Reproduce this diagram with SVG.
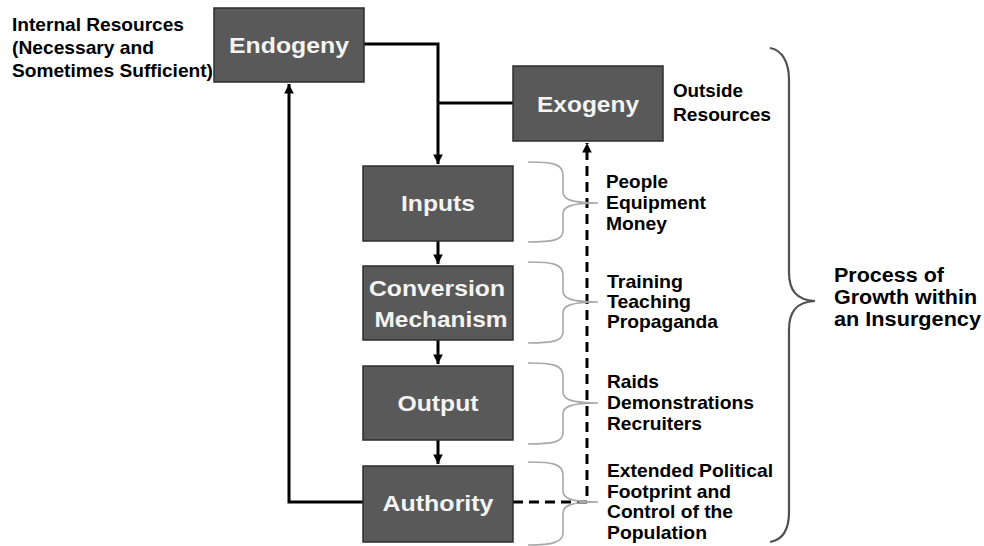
<svg xmlns="http://www.w3.org/2000/svg" width="984" height="546" viewBox="0 0 984 546">
  <defs>
    <style>
      .box { fill: #595959; stroke: #2e2e2e; stroke-width: 1.5; }
      .boxlabel { font-family: "Liberation Sans", Arial, sans-serif; font-weight: bold; font-size: 22px; fill: #f4f4f4; text-anchor: middle; }
      .label { font-family: "Liberation Sans", Arial, sans-serif; font-weight: bold; font-size: 18.5px; fill: #000; }
      .biglabel { font-family: "Liberation Sans", Arial, sans-serif; font-weight: bold; font-size: 19.5px; fill: #000; }
      .wire { fill: none; stroke: #000; stroke-width: 3; }
      .dash { fill: none; stroke: #000; stroke-width: 3; stroke-dasharray: 10 6; }
      .brace { fill: none; stroke: #a8a8a8; stroke-width: 1.6; }
      .bigbrace { fill: none; stroke: #505050; stroke-width: 2.2; }
    </style>
    <marker id="arrow" viewBox="0 0 10 10" refX="10" refY="5" markerWidth="3.2" markerHeight="3.6" orient="auto" markerUnits="strokeWidth">
      <path d="M0,0 L10,5 L0,10 Z" fill="#000"/>
    </marker>
  </defs>

  <!-- connectors -->
  <g id="connectors">
    <path class="wire" d="M364,44 H438 V164" marker-end="url(#arrow)"/>
    <path class="wire" d="M438,103 H513"/>
    <path class="wire" d="M438,241 V264" marker-end="url(#arrow)"/>
    <path class="wire" d="M438,340 V364" marker-end="url(#arrow)"/>
    <path class="wire" d="M438,440 V464" marker-end="url(#arrow)"/>
    <path class="wire" d="M363,502 H289 V84" marker-end="url(#arrow)"/>
    <path class="dash" d="M513,502 H587 V143" marker-end="url(#arrow)"/>
  </g>

  <!-- small braces grouping each stage's examples -->
  <g id="stage-braces">
    <path class="brace" d="M528,162 C553,162 563,164 563,175 L563,192 C563,199 570,203 598,203 C570,203 563,207 563,214 L563,231 C563,240 553,242 528,242"/>
    <path class="brace" d="M528,262 C553,262 563,264 563,275 L563,291 C563,298 570,302 598,302 C570,302 563,306 563,313 L563,332 C563,341 553,343 528,343"/>
    <path class="brace" d="M528,363 C553,363 563,365 563,376 L563,392 C563,399 570,403 598,403 C570,403 563,407 563,414 L563,433 C563,442 553,444 528,444"/>
    <path class="brace" d="M528,462 C553,462 563,464 563,475 L563,491 C563,498 570,502 598,502 C570,502 563,506 563,513 L563,533 C563,542 553,545 528,545"/>
  </g>

  <!-- large brace spanning the whole process -->
  <g id="process-brace">
    <path class="bigbrace" d="M770,48 C782,50 789,62 789,80 L789,272 C789,290 796,300 815,301 C796,302 789,312 789,330 L789,512 C789,530 782,540 770,542"/>
  </g>

  <!-- nodes -->
  <g id="endogeny">
    <rect class="box" x="214" y="8" width="150" height="74"/>
    <text class="boxlabel" x="289" y="53" textLength="120" lengthAdjust="spacingAndGlyphs">Endogeny</text>
  </g>
  <g id="exogeny">
    <rect class="box" x="513" y="66" width="150" height="75"/>
    <text class="boxlabel" x="588" y="112" textLength="102" lengthAdjust="spacingAndGlyphs">Exogeny</text>
  </g>
  <g id="inputs">
    <rect class="box" x="363" y="166" width="150" height="75"/>
    <text class="boxlabel" x="438" y="211" textLength="74" lengthAdjust="spacingAndGlyphs">Inputs</text>
  </g>
  <g id="conversion">
    <rect class="box" x="363" y="266" width="150" height="74"/>
    <text class="boxlabel" x="437" y="296" textLength="136" lengthAdjust="spacingAndGlyphs">Conversion</text>
    <text class="boxlabel" x="441" y="327" textLength="133" lengthAdjust="spacingAndGlyphs">Mechanism</text>
  </g>
  <g id="output">
    <rect class="box" x="363" y="366" width="150" height="74"/>
    <text class="boxlabel" x="438" y="411" textLength="81" lengthAdjust="spacingAndGlyphs">Output</text>
  </g>
  <g id="authority">
    <rect class="box" x="363" y="466" width="150" height="76"/>
    <text class="boxlabel" x="438" y="511" textLength="111" lengthAdjust="spacingAndGlyphs">Authority</text>
  </g>

  <!-- annotations -->
  <g id="internal-resources">
    <text class="label" x="12" y="31" textLength="172" lengthAdjust="spacingAndGlyphs">Internal Resources</text>
    <text class="label" x="12" y="54" textLength="142" lengthAdjust="spacingAndGlyphs">(Necessary and</text>
    <text class="label" x="12" y="77" textLength="201" lengthAdjust="spacingAndGlyphs">Sometimes Sufficient)</text>
  </g>
  <g id="outside-resources">
    <text class="label" x="673" y="97" textLength="70" lengthAdjust="spacingAndGlyphs">Outside</text>
    <text class="label" x="673" y="121" textLength="98" lengthAdjust="spacingAndGlyphs">Resources</text>
  </g>
  <g id="inputs-examples">
    <text class="label" x="606" y="188" textLength="62" lengthAdjust="spacingAndGlyphs">People</text>
    <text class="label" x="606" y="209" textLength="100" lengthAdjust="spacingAndGlyphs">Equipment</text>
    <text class="label" x="606" y="230" textLength="61" lengthAdjust="spacingAndGlyphs">Money</text>
  </g>
  <g id="conversion-examples">
    <text class="label" x="607" y="288" textLength="76" lengthAdjust="spacingAndGlyphs">Training</text>
    <text class="label" x="607" y="308" textLength="84" lengthAdjust="spacingAndGlyphs">Teaching</text>
    <text class="label" x="607" y="328" textLength="111" lengthAdjust="spacingAndGlyphs">Propaganda</text>
  </g>
  <g id="output-examples">
    <text class="label" x="607" y="388" textLength="52" lengthAdjust="spacingAndGlyphs">Raids</text>
    <text class="label" x="607" y="409" textLength="147" lengthAdjust="spacingAndGlyphs">Demonstrations</text>
    <text class="label" x="607" y="430" textLength="95" lengthAdjust="spacingAndGlyphs">Recruiters</text>
  </g>
  <g id="authority-examples">
    <text class="label" x="607" y="477" textLength="166" lengthAdjust="spacingAndGlyphs">Extended Political</text>
    <text class="label" x="607" y="498" textLength="124" lengthAdjust="spacingAndGlyphs">Footprint and</text>
    <text class="label" x="607" y="518" textLength="126" lengthAdjust="spacingAndGlyphs">Control of the</text>
    <text class="label" x="607" y="539" textLength="100" lengthAdjust="spacingAndGlyphs">Population</text>
  </g>
  <g id="process-label">
    <text class="biglabel" x="834" y="282" textLength="110" lengthAdjust="spacingAndGlyphs">Process of</text>
    <text class="biglabel" x="834" y="304" textLength="143" lengthAdjust="spacingAndGlyphs">Growth within</text>
    <text class="biglabel" x="834" y="326" textLength="147" lengthAdjust="spacingAndGlyphs">an Insurgency</text>
  </g>
</svg>
